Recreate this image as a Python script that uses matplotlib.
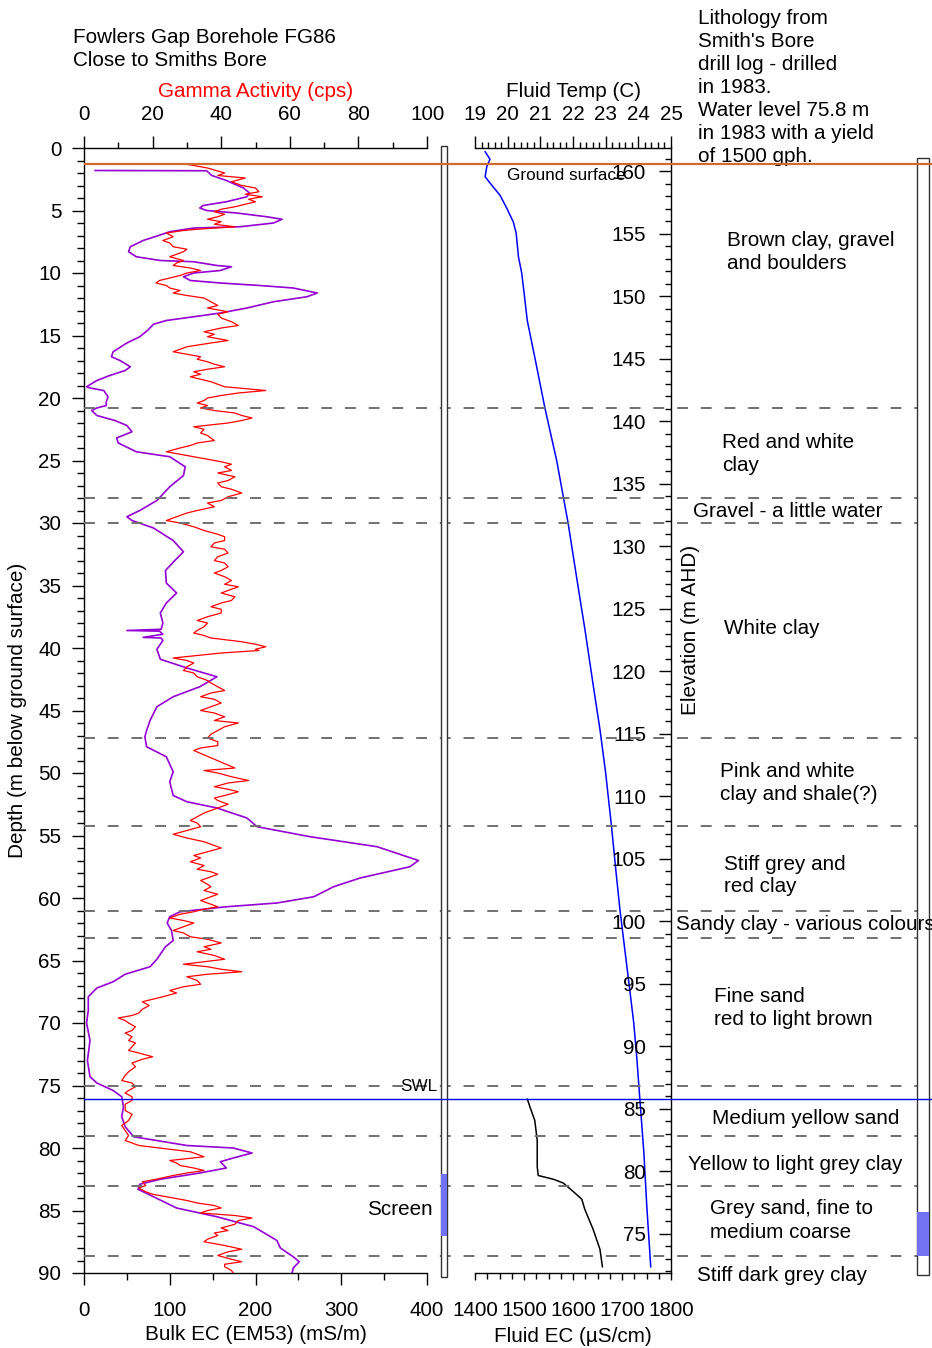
import matplotlib
matplotlib.use("Agg")
import matplotlib.pyplot as plt
from matplotlib.patches import Rectangle
from matplotlib.ticker import MultipleLocator

plt.rcParams['font.family'] = ['Liberation Sans', 'DejaVu Sans']
plt.rcParams['axes.linewidth'] = 1.0

# ---- Bulk EC (EM53) log, mS/m vs depth (m) ----
bulk_depth = [1.8, 1.82, 2.2, 2.6, 3.2, 3.6, 3.9, 4.3, 4.6, 4.8, 5.0, 5.2, 5.5, 5.7, 6.0, 6.3,
              6.4, 6.7, 7.0, 7.4, 7.9, 8.3, 8.7, 9.0, 9.1, 9.4, 9.5, 9.8, 10.0, 10.3, 10.6,
              10.8, 11.0, 11.2, 11.6, 11.9, 12.3, 12.8, 13.2, 13.5, 13.8, 14.1, 14.6, 15.1,
              15.6, 16.3, 16.7, 17.0, 17.5, 17.8, 18.2, 18.6, 19.1, 19.2, 19.4, 19.9, 20.3,
              20.6, 20.8, 21.0, 21.4, 21.8, 22.2, 22.7, 23.2, 23.6, 24.3, 24.7, 25.5, 26.2,
              27.1, 28.2, 29.0, 29.5, 29.8, 30.4, 31.4, 32.3, 33.0, 33.8, 34.8, 35.6, 36.4,
              37.2, 38.0, 38.5, 38.6, 38.65, 38.9, 39.15, 39.2, 39.4, 40.1, 40.9, 41.6, 42.3,
              43.1, 43.9, 44.7, 45.8, 46.6, 47.1, 47.9, 48.7, 49.9, 50.7, 51.8, 52.3, 52.8,
              53.6, 54.3, 55.1, 55.9, 57.0, 57.5, 58.4, 59.1, 59.9, 60.4, 60.7, 61.1, 61.5,
              62.0, 62.6, 63.4, 63.9, 64.9, 65.5, 66.1, 66.7, 67.2, 67.9, 69.0, 70.0, 71.4,
              73.0, 74.3, 74.8, 75.4, 75.9, 76.7, 77.5, 78.3, 79.1, 79.8, 80.0, 80.4, 80.8,
              81.1, 81.6, 82.0, 82.5, 82.9, 83.3, 83.9, 84.8, 85.5, 86.3, 87.4, 88.0, 88.7,
              89.1, 89.6, 90.2]
bulk_ec = [13, 143, 149, 166, 186, 193, 190, 166, 139, 135, 143, 178, 213, 231, 221, 182,
           128, 100, 87, 69, 54, 52, 61, 89, 128, 155, 172, 159, 128, 116, 124,
           159, 205, 244, 272, 260, 221, 190, 159, 128, 96, 81, 74, 65,
           50, 34, 32, 42, 54, 48, 30, 15, 3, 7, 23, 28, 26,
           26, 15, 9, 15, 36, 50, 56, 38, 40, 61, 100, 118, 116,
           100, 85, 65, 50, 56, 81, 104, 116, 106, 95, 96, 108, 96,
           89, 92, 90, 50, 88, 92, 69, 90, 92, 85, 89, 120, 155,
           135, 104, 85, 77, 73, 71, 73, 96, 104, 100, 104, 120, 155,
           190, 202, 264, 342, 390, 380, 322, 291, 268, 225, 166, 112, 100,
           97, 102, 104, 95, 85, 77, 48, 34, 15, 5, 5, 3, 7,
           4, 7, 15, 34, 44, 46, 44, 48, 58, 120, 174, 196, 174,
           159, 166, 135, 89, 65, 63, 81, 108, 155, 198, 225, 229, 244,
           251, 244, 242]

# ---- Gamma activity log, cps vs depth (m) ----
gamma_depth = [1.3, 1.6, 2.0, 2.2, 2.4, 2.7, 3.0, 3.2, 3.5, 3.7, 3.9, 4.1, 4.3, 4.5, 4.7, 4.9,
               5.1, 5.3, 5.5, 5.7, 5.9, 6.1, 6.3, 6.5, 6.6, 6.8, 7.1, 7.4, 7.6, 7.9, 8.1, 8.3,
               8.5, 8.7, 9.0, 9.2, 9.4, 9.6, 9.8, 10.0, 10.2, 10.4, 10.6, 10.8, 11.0, 11.2,
               11.4, 11.6, 11.8, 12.0, 12.3, 12.6, 12.8, 13.1, 13.3, 13.6, 13.9, 14.2, 14.4,
               14.7, 14.9, 15.1, 15.4, 15.6, 15.9, 16.1, 16.3, 16.5, 16.7, 16.9, 17.1, 17.3,
               17.5, 17.7, 17.9, 18.1, 18.3, 18.5, 18.7, 18.9, 19.1, 19.4, 19.6, 19.8, 20.0,
               20.2, 20.4, 20.6, 20.8, 21.0, 21.2, 21.4, 21.6, 21.8, 22.0, 22.3, 22.5, 22.8,
               23.0, 23.4, 23.6, 23.8, 24.0, 24.3, 24.6, 24.8, 25.1, 25.3, 25.5, 25.8, 26.0,
               26.3, 26.6, 26.8, 27.1, 27.3, 27.6, 27.9, 28.2, 28.4, 28.7, 29.0, 29.2, 29.5,
               29.8, 30.0, 30.3, 30.6, 30.9, 31.1, 31.4, 31.6, 31.9, 32.1, 32.4, 32.7, 33.0,
               33.2, 33.5, 33.8, 34.0, 34.3, 34.6, 34.9, 35.1, 35.4, 35.6, 35.9, 36.2, 36.4,
               36.7, 36.9, 37.2, 37.5, 37.8, 38.0, 38.3, 38.6, 38.8, 39.0, 39.2, 39.5, 39.7,
               39.9, 40.1, 40.2, 40.4, 40.6, 40.8, 41.0, 41.2, 41.5, 41.8, 42.0, 42.3, 42.6,
               42.8, 43.1, 43.4, 43.6, 43.9, 44.1, 44.4, 44.7, 45.0, 45.2, 45.5, 45.8, 46.0,
               46.3, 46.6, 46.9, 47.2, 47.5, 47.8, 48.0, 48.2, 49.6, 49.8, 50.0, 50.3, 50.6,
               50.8, 51.1, 51.3, 51.5, 51.8, 52.0, 52.2, 52.5, 52.7, 53.0, 53.2, 53.5, 53.8,
               54.0, 54.3, 54.6, 54.9, 55.2, 55.5, 55.8, 56.0, 56.3, 56.6, 56.8, 57.1, 57.4,
               57.7, 57.9, 58.1, 58.4, 58.6, 58.9, 59.1, 59.4, 59.7, 59.9, 60.2, 60.4, 60.7,
               60.9, 61.1, 61.3, 61.6, 61.8, 62.0, 62.3, 62.6, 62.8, 63.1, 63.3, 63.6, 63.9,
               64.1, 64.3, 64.6, 64.9, 65.1, 65.3, 65.5, 65.7, 65.9, 66.1, 66.3, 66.6, 66.9,
               67.1, 67.4, 67.6, 67.9, 68.1, 68.3, 68.6, 68.9, 69.2, 69.4, 69.6, 69.8, 70.0,
               70.3, 70.6, 70.8, 71.1, 71.4, 71.6, 71.9, 72.2, 72.4, 72.7, 72.9, 73.2, 73.5,
               73.9, 74.2, 74.6, 74.8, 75.1, 75.4, 75.6, 75.9, 76.2, 76.5, 77.0, 77.3, 77.8,
               78.2, 78.6, 79.0, 79.4, 79.8, 80.0, 80.3, 80.5, 80.7, 81.0, 81.2, 81.4, 81.6,
               81.8, 82.0, 82.2, 82.5, 82.7, 83.0, 83.2, 83.5, 83.7, 84.0, 84.2, 84.4, 84.6,
               84.8, 85.0, 85.2, 85.4, 85.6, 85.8, 86.1, 86.4, 86.6, 86.8, 87.0, 87.3, 87.5,
               87.8, 88.1, 88.3, 88.6, 88.9, 89.1, 89.3, 89.5, 89.8, 90.2]
gamma_cps = [30, 36, 41, 39, 47, 43, 46, 50, 51, 47, 52, 48, 50, 47, 44, 40,
             38, 41, 39, 36, 40, 38, 44, 33, 29, 24, 26, 23, 25, 26, 30, 29,
             27, 25, 29, 27, 26, 31, 34, 30, 28, 25, 22, 21, 24, 25,
             28, 26, 30, 35, 37, 39, 36, 42, 39, 40, 43, 45, 40,
             35, 38, 36, 42, 37, 30, 28, 26, 30, 34, 33, 36, 38,
             41, 36, 32, 34, 31, 34, 37, 39, 41, 53, 45, 40, 36,
             35, 33, 36, 34, 38, 44, 46, 49, 46, 42, 32, 35, 34,
             36, 38, 33, 31, 28, 24, 30, 34, 40, 43, 41, 43, 39,
             44, 42, 39, 40, 43, 46, 42, 40, 36, 38, 33, 30, 27,
             24, 28, 32, 35, 39, 41, 41, 38, 37, 41, 42, 39, 38,
             41, 42, 40, 38, 41, 43, 41, 45, 42, 40, 44, 43, 40,
             37, 40, 40, 36, 33, 36, 35, 33, 32, 35, 37, 46, 50,
             53, 50, 51, 40, 33, 26, 30, 32, 30, 29, 32, 33, 36,
             37, 39, 41, 37, 34, 38, 40, 37, 34, 38, 41, 38, 45,
             41, 39, 37, 36, 39, 39, 34, 32, 44, 35, 39, 43, 48,
             42, 38, 42, 45, 41, 38, 39, 42, 40, 37, 35, 33, 31,
             33, 34, 30, 26, 30, 35, 38, 40, 36, 32, 34, 31, 35,
             33, 37, 39, 36, 34, 36, 37, 35, 39, 37, 34, 36, 39,
             35, 32, 28, 25, 29, 32, 29, 26, 29, 31, 36, 40, 35,
             37, 33, 38, 41, 35, 29, 36, 40, 46, 36, 30, 33, 34,
             29, 25, 27, 23, 20, 17, 19, 17, 16, 14, 10, 12, 13,
             15, 14, 12, 14, 13, 15, 14, 13, 16, 20, 17, 14, 15,
             13, 12, 11, 14, 15, 13, 12, 14, 14, 12, 12, 14, 13,
             11, 12, 13, 12, 16, 22, 31, 33, 35, 25, 27, 28, 32,
             35, 30, 26, 21, 17, 18, 16, 18, 20, 26, 30, 33, 38,
             40, 36, 34, 44, 49, 45, 44, 40, 42, 38, 39, 36, 35,
             41, 46, 42, 39, 43, 46, 41, 41, 43, 44]

# ---- Fluid temperature (C) and fluid EC (uS/cm) vs depth (m) ----
temp_depth = [0.3, 0.9, 1.5, 2.3, 2.8, 3.8, 4.8, 5.9, 6.8, 8.7, 10.0, 12.2, 13.8, 17.0,
              20.8, 25.0, 30.0, 35.0, 38.6, 43.0, 46.6, 50.0, 54.3, 58.0, 61.0, 64.0,
              67.4, 70.0, 72.7, 76.2, 80.4, 84.7, 89.5]
temp_c = [19.31, 19.46, 19.36, 19.31, 19.46, 19.77, 19.97, 20.17, 20.26, 20.33, 20.43,
          20.53, 20.60, 20.85, 21.14, 21.50, 21.85, 22.15, 22.37, 22.62, 22.83, 23.00,
          23.18, 23.32, 23.44, 23.58, 23.74, 23.86, 23.95, 24.05, 24.17, 24.26, 24.38]
fec_depth = [76.1, 76.7, 77.8, 79.4, 81.5, 82.2, 82.5, 82.8, 83.5, 84.1, 84.9, 86.5,
             88.1, 89.5]
fec_us = [1507, 1512, 1522, 1527, 1527, 1529, 1560, 1580, 1601, 1618, 1624, 1641, 1655,
          1660]

# ---- Lithology (Smith's Bore drill log) ----
layer_bounds = [20.8, 28.0, 30.0, 47.2, 54.2, 61.0, 63.2, 75.0, 79.0, 83.0, 88.6]
litho_labels = ["Brown clay, gravel\nand boulders", "Red and white\nclay",
                "Gravel - a little water", "White clay",
                "Pink and white\nclay and shale(?)", "Stiff grey and\nred clay",
                "Sandy clay - various colours", "Fine sand\nred to light brown",
                "Medium yellow sand", "Yellow to light grey clay",
                "Grey sand, fine to\nmedium coarse", "Stiff dark grey clay"]
litho_depth = [8.3, 24.5, 29.1, 38.4, 50.8, 58.2, 62.1, 68.8, 77.6, 81.3, 85.8, 90.2]
ground_depth = 1.3
swl_depth = 76.1
elev_at_surface = 161.85   # elevation at depth 0
screen_log = (82.1, 87.0)
screen_log_col = (85.1, 88.6)

info_lines = ["Lithology from", "Smith's Bore", "drill log - drilled", "in 1983.",
              "Water level 75.8 m", "in 1983 with a yield", "of 1500 gph."]

# ---- layout (pixels) ----
W, H = 932, 1348
TOP, BOT = 148, 1273
FS = 14.9
litho_x = [727, 722, 693, 724, 720, 724, 676, 714, 712, 688, 710, 697]


def box(x0, x1):
    return [x0 / W, 1 - BOT / H, (x1 - x0) / W, (BOT - TOP) / H]


fig = plt.figure(figsize=(W / 100, H / 100), dpi=100)

# left panel: bulk EC (bottom) + gamma (top)
ax1 = fig.add_axes(box(84, 427))
ax1.set_facecolor('none')
ax1.plot(bulk_ec, bulk_depth, color='#9400d3', lw=1.2)
ax1.set_xlim(0, 400)
ax1.set_ylim(90, 0)
ax1.xaxis.set_major_locator(MultipleLocator(100))
ax1.xaxis.set_minor_locator(MultipleLocator(50))
ax1.yaxis.set_major_locator(MultipleLocator(5))
ax1.yaxis.set_minor_locator(MultipleLocator(1))
ax1.spines['right'].set_visible(False)
ax1.spines['top'].set_visible(False)
ax1.tick_params(which='major', length=8.8, width=1, labelsize=FS)
ax1.tick_params(which='minor', length=4.7, width=1)
ax1.tick_params(axis='x', which='major', pad=11.2)
ax1.tick_params(axis='y', which='major', pad=7.6)
ax1.set_xlabel('Bulk EC (EM53) (mS/m)', fontsize=FS)
ax1.xaxis.set_label_coords(0.5, -(1325.0 - BOT) / (BOT - TOP))
ax1.set_ylabel('Depth (m below ground surface)', fontsize=FS)
ax1.yaxis.set_label_coords((27 - 84) / 343, 0.5)

ax1t = ax1.twiny()
ax1t.plot(gamma_cps, gamma_depth, color='red', lw=0.9)
ax1t.set_xlim(0, 100)
ax1t.set_ylim(90, 0)
for s in ['left', 'right', 'bottom']:
    ax1t.spines[s].set_visible(False)
ax1t.xaxis.set_major_locator(MultipleLocator(20))
ax1t.xaxis.set_minor_locator(MultipleLocator(10))
ax1t.tick_params(which='major', length=8.4, width=1, labelsize=FS, pad=8.6)
ax1t.tick_params(which='minor', length=4.1, width=1)
ax1t.set_xlabel('Gamma Activity (cps)', fontsize=FS, color='red')
ax1t.xaxis.set_label_coords(0.5, 1 + (TOP - 97.0) / (BOT - TOP))

# middle panel: fluid EC (bottom) + fluid temperature (top)
ax2 = fig.add_axes(box(475, 671))
ax2.set_facecolor('none')
ax2.plot(fec_us, fec_depth, color='black', lw=1.1)
ax2.set_xlim(1400, 1800)
ax2.set_ylim(90, 0)
for s in ['left', 'right', 'top']:
    ax2.spines[s].set_visible(False)
ax2.xaxis.set_major_locator(MultipleLocator(100))
ax2.xaxis.set_minor_locator(MultipleLocator(25))
ax2.tick_params(axis='x', which='major', length=5.2, width=1, labelsize=FS, pad=14.8)
ax2.tick_params(axis='x', which='minor', length=4.0, width=1)
ax2.tick_params(axis='y', which='both', left=False, labelleft=False)
ax2.set_xlabel('Fluid EC (\u00b5S/cm)', fontsize=FS)
ax2.xaxis.set_label_coords(0.5, -(1326.5 - BOT) / (BOT - TOP))

ax2t = ax2.twiny()
ax2t.plot(temp_c, temp_depth, color='blue', lw=1.1)
ax2t.set_xlim(19, 25)
ax2t.set_ylim(90, 0)
for s in ['left', 'right', 'bottom']:
    ax2t.spines[s].set_visible(False)
ax2t.xaxis.set_major_locator(MultipleLocator(1))
ax2t.xaxis.set_minor_locator(MultipleLocator(0.2))
ax2t.tick_params(which='major', length=8.4, width=1, labelsize=FS, pad=8.6)
ax2t.tick_params(which='minor', length=4.1, width=1)
ax2t.set_xlabel('Fluid Temp (C)', fontsize=FS)
ax2t.xaxis.set_label_coords(0.5, 1 + (TOP - 97.0) / (BOT - TOP))

# elevation axis on the right edge of the middle panel
ax_el = fig.add_axes(box(671, 932))
ax_el.set_facecolor('none')
ax_el.set_ylim(elev_at_surface - 90, elev_at_surface)
ax_el.set_xlim(0, 1)
for s in ['right', 'top', 'bottom']:
    ax_el.spines[s].set_visible(False)
ax_el.set_xticks([])
ax_el.yaxis.set_major_locator(MultipleLocator(5))
ax_el.yaxis.set_minor_locator(MultipleLocator(1))
ax_el.tick_params(axis='y', which='major', length=8.8, width=1, labelsize=FS, pad=9.2)
ax_el.tick_params(axis='y', which='minor', length=4.3, width=1)
ax_el.set_ylabel('Elevation (m AHD)', fontsize=FS)
ax_el.yaxis.set_label_coords((700 - 671) / 261, (BOT - 630) / (BOT - TOP))

# overlay: horizons, water level, casing columns and annotations (x in pixels)
ax_ov = fig.add_axes(box(84, 932))
ax_ov.set_zorder(5)
ax_ov.set_facecolor('none')
ax_ov.set_xlim(84, 932)
ax_ov.set_ylim(90, 0)
ax_ov.axis('off')

for d in layer_bounds:
    ax_ov.axhline(d, color='#707070', lw=1.4, ls=(0, (5.6, 6.6)), zorder=1)

for x0, wd, top, bot, scr in [(440.7, 6.6, -0.18, 90.3, screen_log),
                              (917.0, 12.0, 0.83, 90.16, screen_log_col)]:
    ax_ov.add_patch(Rectangle((x0, top), wd, bot - top, facecolor='white',
                              edgecolor='#333333', lw=1.0, zorder=2, clip_on=False))
    ax_ov.add_patch(Rectangle((x0, scr[0]), wd, scr[1] - scr[0], facecolor='#7272f2',
                              edgecolor='none', zorder=2.5, clip_on=False))

ax_ov.axhline(ground_depth, color='#d2692d', lw=1.6, zorder=3)
ax_ov.axhline(swl_depth, color='blue', lw=1.0, zorder=3)

ax_ov.text(437, 75.1, 'SWL', fontsize=12.3, ha='right', va='center', zorder=4)
ax_ov.text(433, 84.9, 'Screen', fontsize=FS, ha='right', va='center', zorder=4)
ax_ov.text(507, 2.2, 'Ground surface', fontsize=12.3, ha='left', va='center', zorder=4)

line_step = 23.0 / 12.5   # 23 px between lines, in metres of depth
for lab, d, x in zip(litho_labels, litho_depth, litho_x):
    rows = lab.split('\n')
    for i, row in enumerate(rows):
        ax_ov.text(x, d + (i - (len(rows) - 1) / 2) * line_step, row, fontsize=FS,
                   ha='left', va='center', zorder=4, clip_on=False)

for i, row in enumerate(info_lines):
    fig.text(698 / W, 1 - (24 + 22.95 * i) / H, row, fontsize=FS, ha='left', va='baseline')

fig.text(73 / W, 1 - 43.3 / H, 'Fowlers Gap Borehole FG86', fontsize=FS, va='baseline')
fig.text(73 / W, 1 - 66.0 / H, 'Close to Smiths Bore', fontsize=FS, va='baseline')

fig.savefig('out.png', dpi=100)
